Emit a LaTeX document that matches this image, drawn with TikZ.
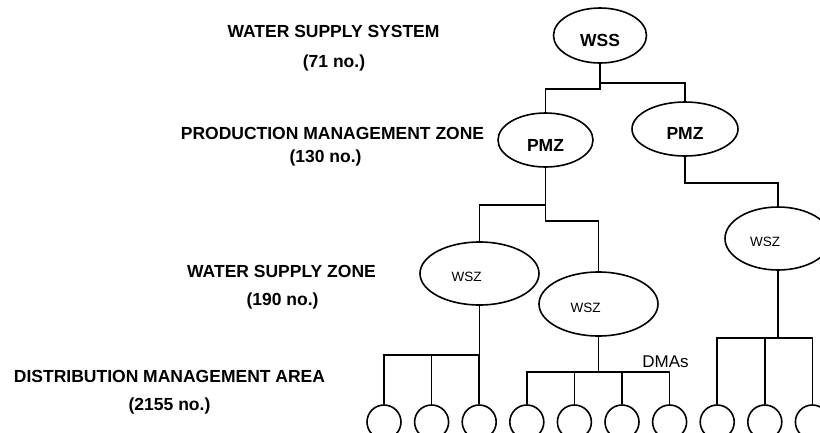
\documentclass[tikz,border=0pt]{standalone}
\usepackage{fontspec}
\setmainfont{Liberation Sans}
\usetikzlibrary{shapes.geometric}

\tikzset{
    zone/.style={draw, ellipse, line width=1.6pt, inner sep=0pt},
    dma/.style={draw, circle, line width=1.6pt, inner sep=0pt, minimum size=34pt},
    link/.style={line width=1.6pt},
    heading/.style={inner sep=0pt, font=\fontsize{17.5}{20}\selectfont\bfseries},
    tagbold/.style={inner sep=0pt, font=\fontsize{17.5}{20}\selectfont\bfseries},
    tagsmall/.style={inner sep=0pt, font=\fontsize{13.5}{15}\selectfont},
    tagplain/.style={inner sep=0pt, font=\fontsize{17}{20}\selectfont}
}

\begin{document}
\begin{tikzpicture}[x=1pt, y=-1pt]

    \useasboundingbox (0,0) rectangle (820,432);
    \clip (0,0) rectangle (820,432);

    % level headings on the left
    \node[heading] (wss-head) at (333.5,31.5) {WATER SUPPLY SYSTEM};
    \node[heading] (wss-num) at (334,62.5) {(71 no.)};
    \node[heading] (pmz-head) at (332.5,133.5) {PRODUCTION MANAGEMENT ZONE};
    \node[heading] (pmz-num) at (325.5,157.5) {(130 no.)};
    \node[heading] (wsz-head) at (281.5,271.5) {WATER SUPPLY ZONE};
    \node[heading] (wsz-num) at (282.5,300.5) {(190 no.)};
    \node[heading] (dma-head) at (169.5,376.5) {DISTRIBUTION MANAGEMENT AREA};
    \node[heading] (dma-num) at (169.5,405.5) {(2155 no.)};

    % system and production zones
    \node[zone, minimum width=93pt, minimum height=55pt] (wss) at (600,35.5) {};
    \node[zone, minimum width=95pt, minimum height=54pt] (pmzA) at (545.5,140) {};
    \node[zone, minimum width=106pt, minimum height=54pt] (pmzB) at (685,129) {};
    \node[tagbold] (wss-t) at ([yshift=-4.5pt]wss.center) {WSS};
    \node[tagbold] (pmzA-t) at ([yshift=-5pt]pmzA.center) {PMZ};
    \node[tagbold] (pmzB-t) at ([yshift=-4.5pt]pmzB.center) {PMZ};

    % water supply zones
    \node[zone, minimum width=119pt, minimum height=63pt] (wszA) at (479.5,273.5) {};
    \node[zone, minimum width=119pt, minimum height=64pt] (wszB) at (598.5,304) {};
    \node[zone, minimum width=106pt, minimum height=63pt] (wszC) at (778,238.5) {};
    \foreach \z in {wszA,wszB,wszC}
        \node[tagsmall] (\z-t) at ([xshift=-13pt,yshift=-3.5pt]\z.center) {WSZ};

    % district metered areas
    \foreach \i in {1,...,10}
        \node[dma] (dma\i) at ({384+47.6*(\i-1)},422) {};
    \node[tagplain] (dmas) at (665.5,362) {DMAs};

    % tree connectors
    \draw[link] (wss.south) -- ++(0,25) -| (pmzA.north);
    \draw[link] (wss.south) ++(0,19) -| (pmzB.north);
    \draw[link] (pmzA.south) -- ++(0,37) -| (wszA.north);
    \draw[link] (pmzA.south) -- ++(0,53) -| (wszB.north);
    \draw[link] (pmzB.south) -- ++(0,26) -| (wszC.north);
    \foreach \i in {1,2,3}
        \draw[link] (wszA.south) -- ++(0,49) -| (dma\i.north);
    \foreach \i in {4,...,7}
        \draw[link] (wszB.south) -- ++(0,35) -| (dma\i.north);
    \foreach \i in {8,9,10}
        \draw[link] (wszC.south) -- ++(0,67) -| (dma\i.north);

\end{tikzpicture}
\end{document}
